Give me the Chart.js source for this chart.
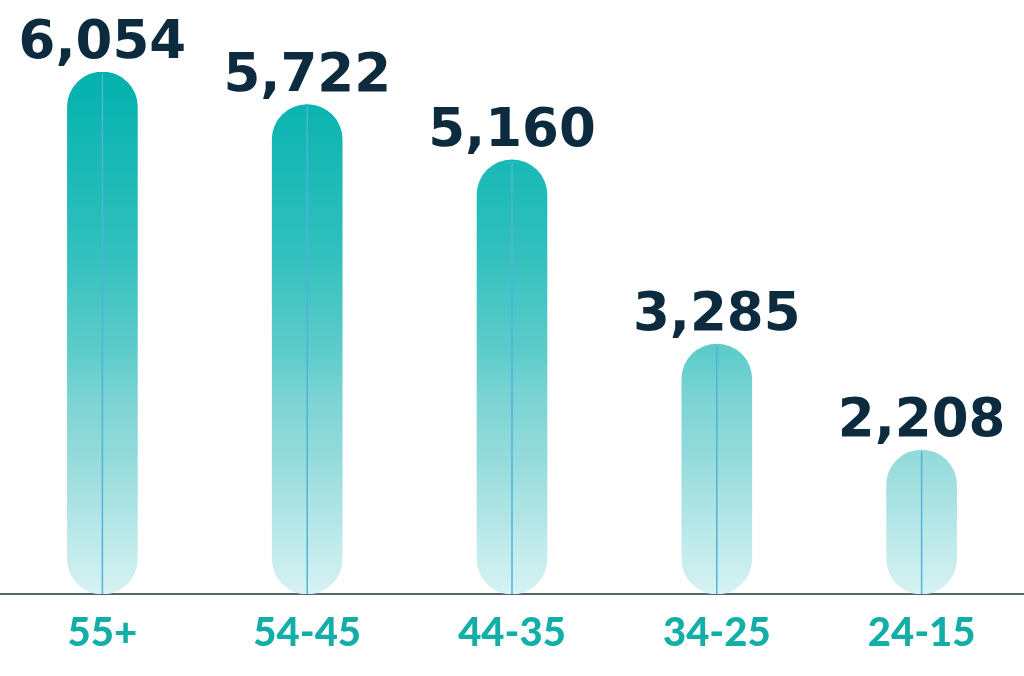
<!DOCTYPE html>
<html>
<head>
<meta charset="utf-8">
<script src="https://cdn.jsdelivr.net/npm/chart.js@4"></script>
<style>
  html, body { margin: 0; padding: 0; background: #fff; }
  canvas { display: block; }
</style>
</head>
<body>
<canvas id="myChart" width="1024" height="676"></canvas>
<script>
// age groups and counts
const ageGroups = ['55+', '54-45', '44-35', '34-25', '24-15'];
const counts = [6054, 5722, 5160, 3285, 2208];
// the axis does not start at zero in the original
const yMin = 743;
const yMax = 6054;

// gradient in chart coordinates, dark teal on top, pale at the baseline
function barGradient(context) {
    const area = context.chart.chartArea;
    if (!area) return '#2dc0bc';
    const g = context.chart.ctx.createLinearGradient(0, area.top, 0, area.bottom);
    g.addColorStop(0, '#02b1ad');
    g.addColorStop(0.34, '#30c0bd');
    g.addColorStop(0.54, '#5fcccb');
    g.addColorStop(0.63, '#7dd4d4');
    g.addColorStop(0.74, '#95dbdb');
    g.addColorStop(0.95, '#cbeeef');
    g.addColorStop(1, '#d6f2f3');
    return g;
}

// thin line down the middle of each bar + value on top
const barExtras = {
    id: 'barExtras',
    afterDatasetsDraw: function(chart) {
        const ctx = chart.ctx;
        const meta = chart.getDatasetMeta(0);
        ctx.save();
        meta.data.forEach(function(bar, i) {
            ctx.strokeStyle = '#4fb3da';
            ctx.lineWidth = 1.5;
            ctx.beginPath();
            ctx.moveTo(bar.x, bar.y + 2);
            ctx.lineTo(bar.x, bar.base);
            ctx.stroke();

            ctx.fillStyle = '#0d2b3e';
            ctx.font = 'bold 53px "DejaVu Sans"';
            ctx.textAlign = 'center';
            ctx.textBaseline = 'alphabetic';
            ctx.fillText(counts[i].toLocaleString('en-US'), bar.x, bar.y - 14);
        });
        ctx.restore();
    }
};

const ctx = document.getElementById('myChart').getContext('2d');
const myChart = new Chart(ctx, {
    type: 'bar',
    data: {
        labels: ageGroups,
        datasets: [{
            data: counts,
            base: yMin,
            backgroundColor: barGradient,
            borderWidth: 0,
            borderRadius: 35,
            borderSkipped: false,
            barThickness: 70
        }]
    },
    options: {
        responsive: false,
        animation: false,
        layout: {
            padding: { top: 72, left: 0, right: 0, bottom: 4 }
        },
        plugins: {
            legend: { display: false },
            tooltip: { enabled: false }
        },
        scales: {
            x: {
                z: 1,
                grid: { display: false, drawTicks: false },
                border: { display: true, color: '#56666f', width: 2 },
                ticks: {
                    color: '#14aea8',
                    padding: 15,
                    font: { family: 'Lato', weight: 900, size: 40 }
                }
            },
            y: {
                display: false,
                min: yMin,
                max: yMax
            }
        }
    },
    plugins: [barExtras]
});
</script>
</body>
</html>
